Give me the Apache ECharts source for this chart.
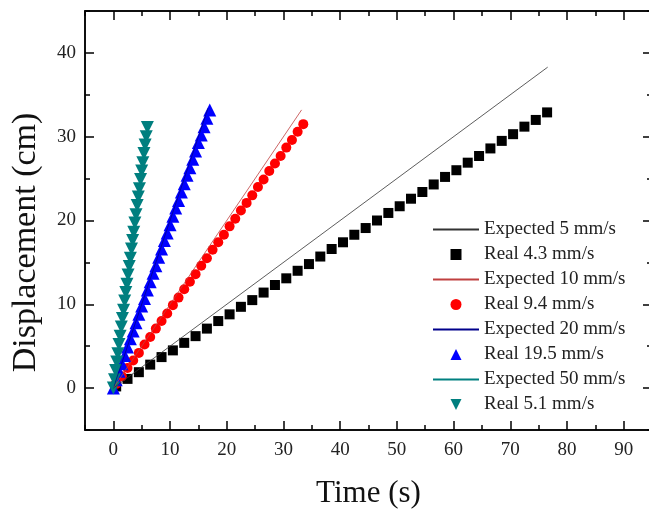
<!DOCTYPE html>
<html>
<head>
<meta charset="utf-8">
<script src="https://cdn.jsdelivr.net/npm/echarts@6/dist/echarts.min.js"></script>
<style>
  html, body { margin: 0; padding: 0; background: #fff; }
  #chart { width: 649px; height: 511px; }
</style>
</head>
<body>
<div id="chart"></div>
<script>
const xMajor = [0, 10, 20, 30, 40, 50, 60, 70, 80, 90];
const xMinor = [-5, 5, 15, 25, 35, 45, 55, 65, 75, 85, 95];
const yMajor = [0, 10, 20, 30, 40];
const yMinor = [-5, 5, 15, 25, 35, 45];

const exp5T = [0, 76.6];
const exp5D = [0, 38.3];
const exp10T = [0, 33.2];
const exp10D = [0, 33.2];
const exp20T = [0, 16.7];
const exp20D = [0, 33.4];
const exp50T = [0, 6.2];
const exp50D = [0, 31.0];

const real43T = [0.5, 2.5, 4.5, 6.5, 8.5, 10.5, 12.5, 14.5, 16.5, 18.5, 20.5, 22.5, 24.5, 26.5, 28.5, 30.5, 32.5, 34.5, 36.5, 38.5,
  40.5, 42.5, 44.5, 46.5, 48.5, 50.5, 52.5, 54.5, 56.5, 58.5, 60.5, 62.5, 64.5, 66.5, 68.5, 70.5, 72.5, 74.5, 76.5];
const real43D = [0.2, 1.1, 1.9, 2.8, 3.7, 4.5, 5.4, 6.2, 7.1, 8.0, 8.8, 9.7, 10.5, 11.4, 12.3, 13.1, 14.0, 14.8, 15.7, 16.6,
  17.4, 18.3, 19.1, 20.0, 20.9, 21.7, 22.6, 23.4, 24.3, 25.2, 26.0, 26.9, 27.7, 28.6, 29.5, 30.3, 31.2, 32.0, 32.9];

const real94T = [0.5, 1.5, 2.5, 3.5, 4.5, 5.5, 6.5, 7.5, 8.5, 9.5, 10.5, 11.5, 12.5, 13.5, 14.5, 15.5, 16.5,
  17.5, 18.5, 19.5, 20.5, 21.5, 22.5, 23.5, 24.5, 25.5, 26.5, 27.5, 28.5, 29.5, 30.5, 31.5, 32.5, 33.5];
const real94D = [0.5, 1.4, 2.4, 3.3, 4.2, 5.2, 6.1, 7.1, 8.0, 8.9, 9.9, 10.8, 11.8, 12.7, 13.6, 14.6, 15.5,
  16.5, 17.4, 18.3, 19.3, 20.2, 21.2, 22.1, 23.0, 24.0, 24.9, 25.9, 26.8, 27.7, 28.7, 29.6, 30.6, 31.5];

const real195T = [0, 0.5, 1, 1.5, 2, 2.5, 3, 3.5, 4, 4.5, 5, 5.5, 6, 6.5, 7, 7.5, 8, 8.5,
  9, 9.5, 10, 10.5, 11, 11.5, 12, 12.5, 13, 13.5, 14, 14.5, 15, 15.5, 16, 16.5, 17];
const real195D = [0, 1.0, 2.0, 2.9, 3.9, 4.9, 5.9, 6.8, 7.8, 8.8, 9.8, 10.7, 11.7, 12.7, 13.7, 14.6, 15.6, 16.6,
  17.6, 18.5, 19.5, 20.5, 21.5, 22.4, 23.4, 24.4, 25.4, 26.3, 27.3, 28.3, 29.3, 30.2, 31.2, 32.2, 33.2];

const real51T = [0, 0.2, 0.4, 0.6, 0.8, 1.0, 1.2, 1.4, 1.6, 1.8, 2.0, 2.2, 2.4, 2.6, 2.8, 3.0,
  3.2, 3.4, 3.6, 3.8, 4.0, 4.2, 4.4, 4.6, 4.8, 5.0, 5.2, 5.4, 5.6, 5.8, 6.0];
const real51D = [0, 1.0, 2.1, 3.1, 4.1, 5.2, 6.2, 7.3, 8.3, 9.3, 10.4, 11.4, 12.4, 13.5, 14.5, 15.5,
  16.6, 17.6, 18.6, 19.7, 20.7, 21.8, 22.8, 23.8, 24.9, 25.9, 26.9, 28.0, 29.0, 30.0, 31.1];

const zip = (a, b) => a.map((v, i) => [v, b[i]]);

const font = 'Liberation Serif, Times New Roman, serif';
const axisLineStyle = { color: '#000', width: 1.5 };

// marker shapes
const squarePath = 'path://M0,0 L10,0 L10,10 L0,10 Z';
const upTriPath = 'path://M5,0 L10,10 L0,10 Z';
const downTriPath = 'path://M0,0 L10,0 L5,10 Z';

function xAxisDef(position, ticks, len, withLabels) {
  return {
    type: 'value', min: -5, max: 95, position: position,
    axisLine: { show: true, onZero: false, lineStyle: axisLineStyle },
    axisTick: { show: true, inside: true, length: len, customValues: ticks, lineStyle: { color: '#000', width: 1.5 } },
    axisLabel: withLabels
      ? { show: true, customValues: xMajor, margin: 11, color: '#222', fontFamily: font, fontSize: 19 }
      : { show: false },
    splitLine: { show: false }
  };
}

function yAxisDef(position, ticks, len, withLabels) {
  return {
    type: 'value', min: -5, max: 45, position: position,
    axisLine: { show: true, onZero: false, lineStyle: axisLineStyle },
    axisTick: { show: true, inside: true, length: len, customValues: ticks, lineStyle: { color: '#000', width: 1.5 } },
    axisLabel: withLabels
      ? { show: true, customValues: yMajor, margin: 9, color: '#222', fontFamily: font, fontSize: 19 }
      : { show: false },
    splitLine: { show: false }
  };
}

const chart = echarts.init(document.getElementById('chart'), null, { renderer: 'canvas' });

const xAxes = [
  xAxisDef('bottom', xMajor, 9, true),
  xAxisDef('bottom', xMinor, 5, false),
  xAxisDef('top', xMajor, 9, false),
  xAxisDef('top', xMinor, 5, false)
];
xAxes[0].name = 'Time (s)';
xAxes[0].nameLocation = 'middle';
xAxes[0].nameGap = 48;
xAxes[0].nameTextStyle = { color: '#111', fontFamily: font, fontSize: 31 };

const yAxes = [
  yAxisDef('left', yMajor, 9, true),
  yAxisDef('left', yMinor, 5, false),
  yAxisDef('right', yMajor, 9, false),
  yAxisDef('right', yMinor, 5, false)
];
yAxes[0].name = 'Displacement (cm)';
yAxes[0].nameLocation = 'middle';
yAxes[0].nameGap = 42;
yAxes[0].nameTextStyle = { color: '#111', fontFamily: font, fontSize: 34, padding: [0, 44, 0, 0] };

function lineSeries(name, t, d, color, width) {
  return {
    name: name, type: 'line', data: zip(t, d), symbol: 'none', silent: true,
    lineStyle: { color: color, width: width }, itemStyle: { color: color }
  };
}

function markSeries(name, t, d, symbol, size, color) {
  return {
    name: name, type: 'scatter', data: zip(t, d), symbol: symbol, symbolSize: size,
    itemStyle: { color: color, opacity: 1 }
  };
}

// legend entry for a plain line: keep the line, hide the symbol
const lineItem = (name) => ({ name: name, icon: 'inherit', itemStyle: { opacity: 0, borderWidth: 0 } });

const option = {
  animation: false,
  backgroundColor: '#fff',
  grid: { left: 85, right: -3, top: 11, bottom: 81, outerBoundsMode: 'none', containLabel: false },
  xAxis: xAxes,
  yAxis: yAxes,
  legend: {
    orient: 'vertical',
    left: 427,
    top: 215,
    itemWidth: 46,
    itemHeight: 11,
    itemGap: 6,
    symbolKeepAspect: true,
    textStyle: { color: '#222', fontFamily: font, fontSize: 19, lineHeight: 19 },
    data: [
      lineItem('Expected 5 mm/s'),
      { name: 'Real 4.3 mm/s', icon: squarePath },
      lineItem('Expected 10 mm/s'),
      { name: 'Real 9.4 mm/s', icon: 'circle' },
      lineItem('Expected 20 mm/s'),
      { name: 'Real 19.5 mm/s', icon: upTriPath },
      lineItem('Expected 50 mm/s'),
      { name: 'Real 5.1 mm/s', icon: downTriPath }
    ]
  },
  series: [
    lineSeries('Expected 5 mm/s', exp5T, exp5D, '#333', 0.8),
    markSeries('Real 4.3 mm/s', real43T, real43D, squarePath, 10, '#000'),
    lineSeries('Expected 10 mm/s', exp10T, exp10D, '#c04040', 0.8),
    markSeries('Real 9.4 mm/s', real94T, real94D, 'circle', 10, '#ff0000'),
    lineSeries('Expected 20 mm/s', exp20T, exp20D, '#00008b', 0.8),
    markSeries('Real 19.5 mm/s', real195T, real195D, upTriPath, 13, '#0000ff'),
    lineSeries('Expected 50 mm/s', exp50T, exp50D, '#008080', 0.8),
    markSeries('Real 5.1 mm/s', real51T, real51D, downTriPath, 13, '#007f7f')
  ]
};

chart.setOption(option);
</script>
</body>
</html>
